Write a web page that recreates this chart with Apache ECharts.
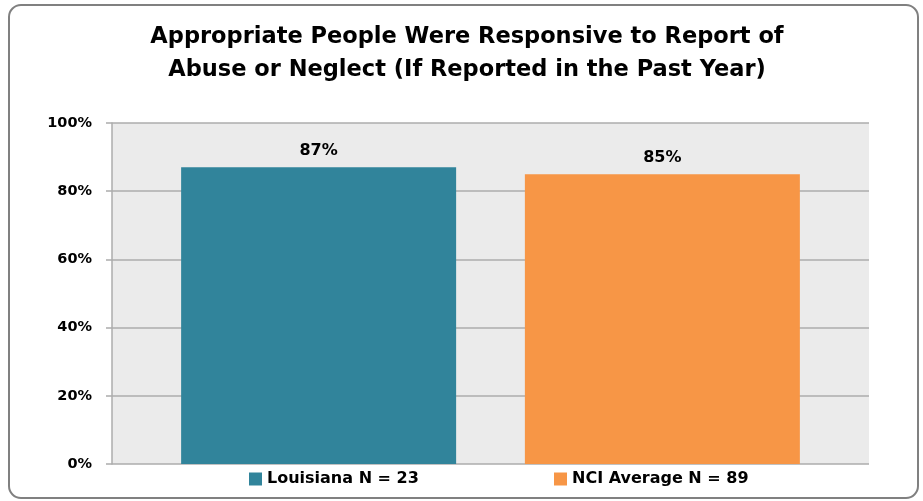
<!DOCTYPE html>
<html>
<head>
<meta charset="utf-8">
<script src="https://cdn.jsdelivr.net/npm/echarts@6/dist/echarts.min.js"></script>
<style>html,body{margin:0;padding:0;background:#fff}#c{width:923px;height:501px}</style>
</head>
<body>
<div id="c"></div>
<script>
var titleLines = ['Appropriate People Were Responsive to Report of', 'Abuse or Neglect (If Reported in the Past Year)'];
var categories = [''];
var seriesNames = ['Louisiana N = 23', 'NCI Average N = 89'];
var louisianaValues = [87];
var nciValues = [85];
var yTicks = {min: 0, max: 100, interval: 20};
var colors = ['#31849b', '#f79646'];

var chart = echarts.init(document.getElementById('c'));
var font = 'DejaVu Sans';
var labelStyle = {show: true, position: 'top', distance: 8, formatter: '{c}%', fontFamily: font, fontWeight: 'bold', fontSize: 16, color: '#000'};
chart.setOption({
  animation: false,
  title: {
    text: titleLines.join('\n'), left: 462, top: 15, textAlign: 'center',
    textStyle: {fontFamily: font, fontWeight: 'bold', fontSize: 22.5, lineHeight: 33.5, color: '#000'}
  },
  graphic: [{type: 'rect', shape: {x: 9, y: 5, width: 909, height: 493, r: 12}, style: {fill: 'none', stroke: '#808080', lineWidth: 2}, silent: true}],
  legend: [
    {data: [seriesNames[0]], left: 244, top: 466, itemWidth: 13, itemHeight: 13, icon: 'rect',
     textStyle: {fontFamily: font, fontWeight: 'bold', fontSize: 16, color: '#000'}},
    {data: [seriesNames[1]], left: 549, top: 466, itemWidth: 13, itemHeight: 13, icon: 'rect',
     textStyle: {fontFamily: font, fontWeight: 'bold', fontSize: 16, color: '#000'}}
  ],
  grid: {left: 112, right: 54, top: 123, bottom: 37, show: true, backgroundColor: '#ebebeb', borderWidth: 0},
  xAxis: {type: 'category', data: categories, axisLine: {show: false}, axisTick: {show: false}, axisLabel: {show: false}},
  yAxis: {
    type: 'value', min: yTicks.min, max: yTicks.max, interval: yTicks.interval,
    axisLine: {show: true, lineStyle: {color: '#acacac', width: 1.5}},
    axisTick: {show: true, length: 6, lineStyle: {color: '#acacac', width: 1.5}},
    splitLine: {lineStyle: {color: '#acacac', width: 1.5}},
    axisLabel: {formatter: '{value}%', margin: 20, fontFamily: font, fontWeight: 'bold', fontSize: 14.5, color: '#000'}
  },
  series: [
    {name: seriesNames[0], type: 'bar', data: louisianaValues, barWidth: 275, barGap: '25%', itemStyle: {color: colors[0]}, label: labelStyle},
    {name: seriesNames[1], type: 'bar', data: nciValues, barWidth: 275, itemStyle: {color: colors[1]}, label: labelStyle}
  ]
});
</script>
</body>
</html>
